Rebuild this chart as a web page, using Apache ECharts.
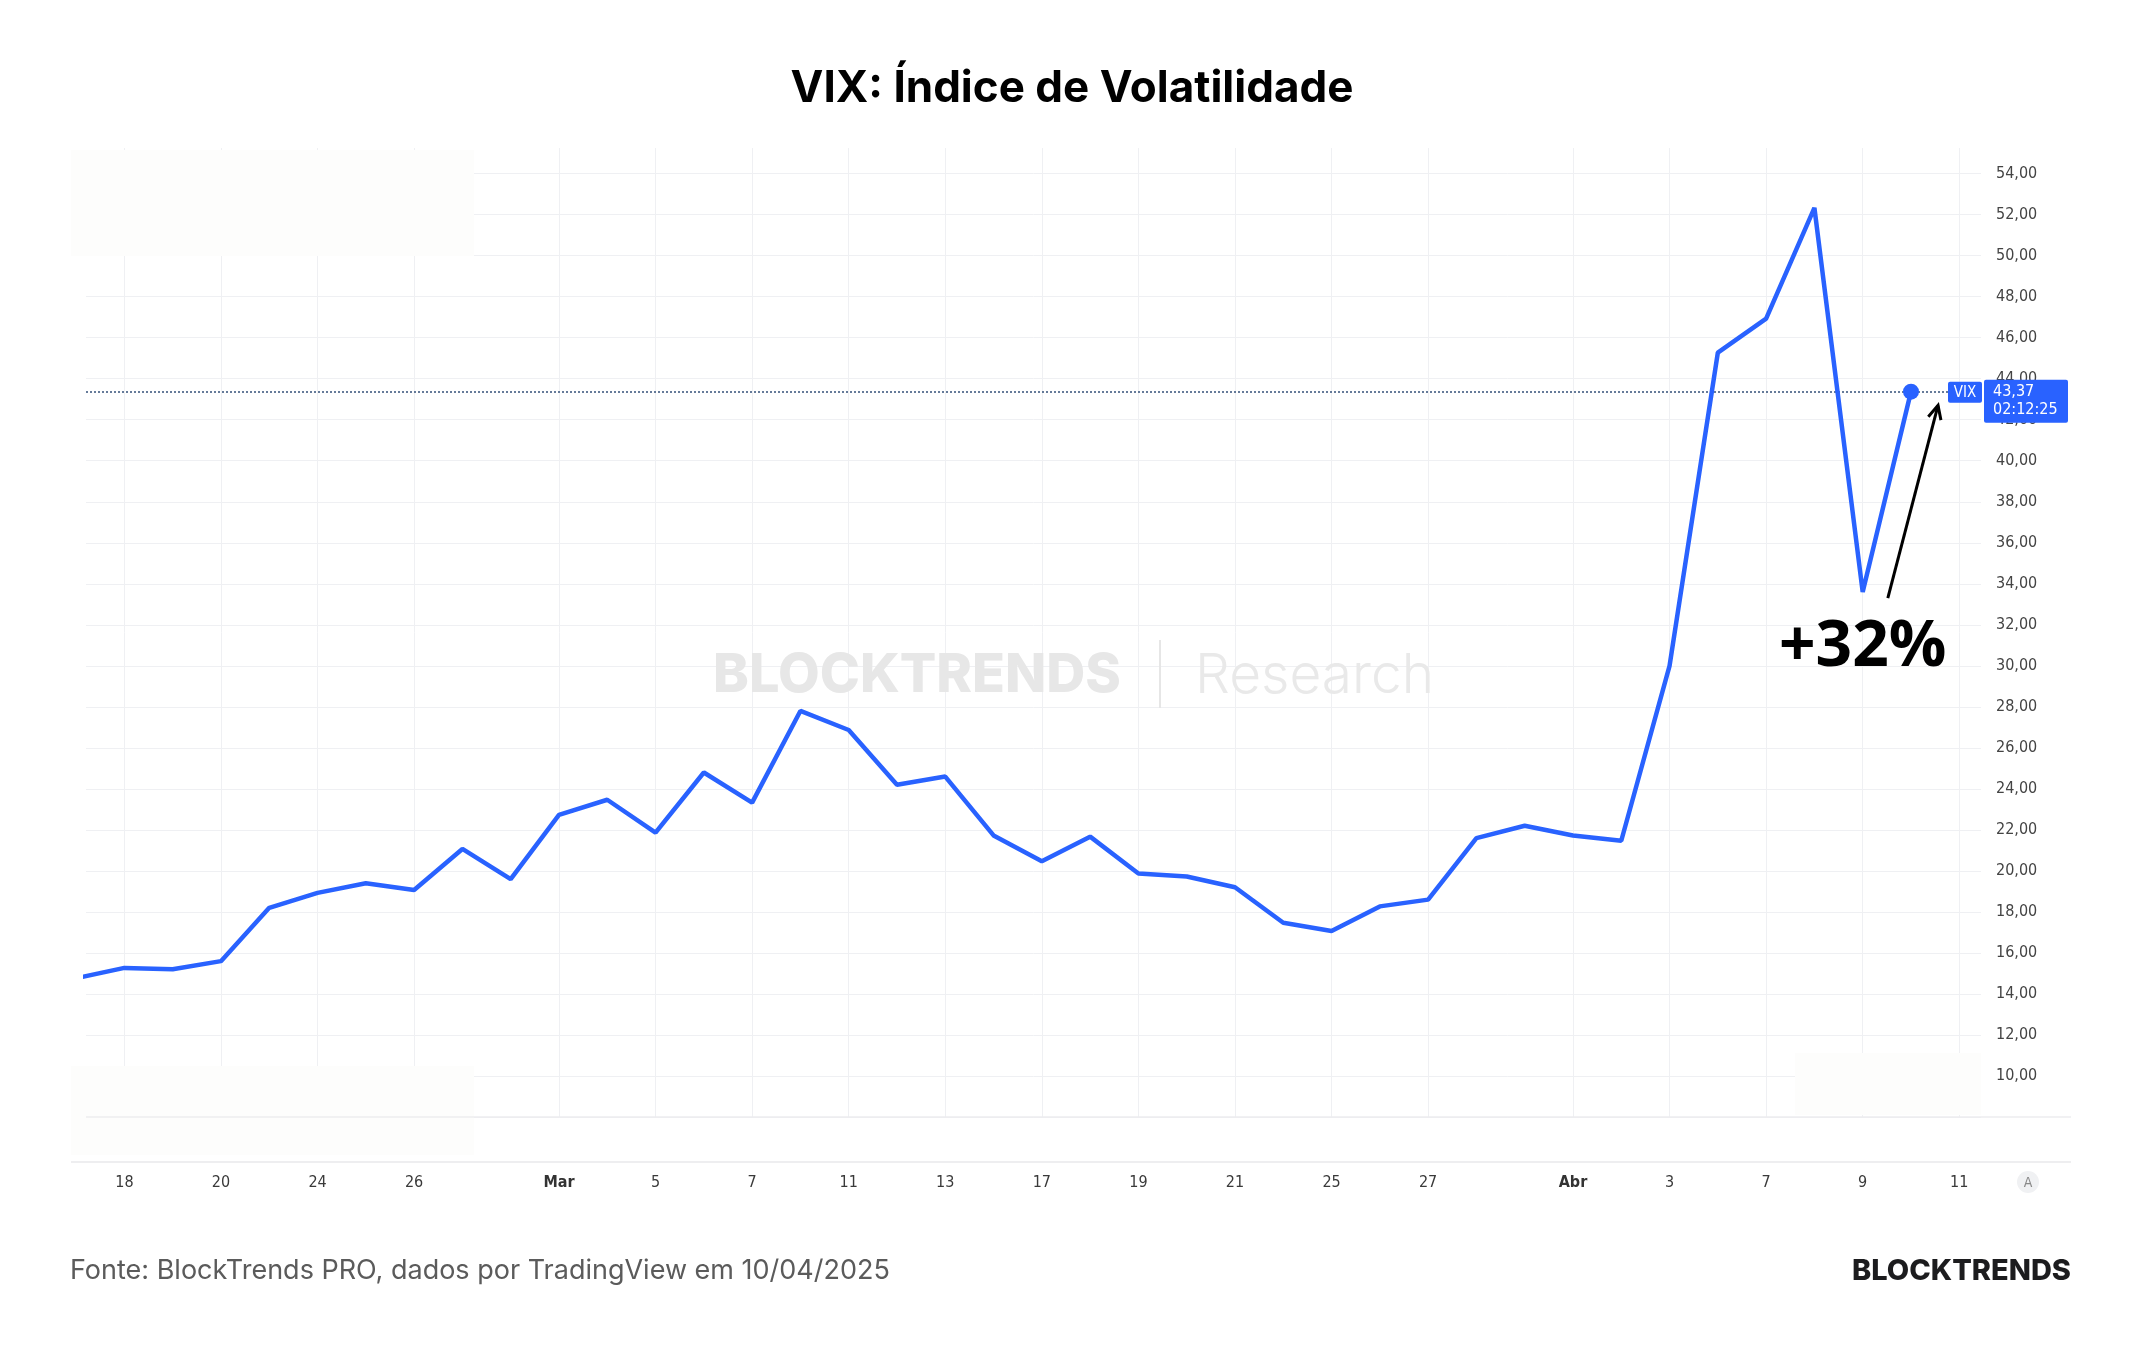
<!DOCTYPE html>
<html><head><meta charset="utf-8">
<script src="https://cdn.jsdelivr.net/npm/echarts@6/dist/echarts.min.js"></script>
<style>html,body{margin:0;padding:0;background:#fff}#c{width:2144px;height:1350px}</style>
</head><body><div id="c"></div>
<script>
// Trading days (index 0 = 14 fev)
const dates = ['14/02','18/02','19/02','20/02','21/02','24/02','25/02','26/02','27/02','28/02',
  '03/03','04/03','05/03','06/03','07/03','10/03','11/03','12/03','13/03','14/03',
  '17/03','18/03','19/03','20/03','21/03','24/03','25/03','26/03','27/03','28/03',
  '31/03','01/04','02/04','03/04','04/04','07/04','08/04','09/04','10/04'];
const vix = [14.77, 15.27, 15.2, 15.6, 18.2, 18.93, 19.4, 19.07, 21.07, 19.6,
  22.73, 23.47, 21.87, 24.8, 23.33, 27.8, 26.87, 24.2, 24.6, 21.73,
  20.47, 21.67, 19.87, 19.73, 19.2, 17.47, 17.07, 18.27, 18.6, 21.6,
  22.2, 21.73, 21.47, 30.0, 45.27, 46.93, 52.33, 33.6, 43.37];
const xTickIdx = [1,3,5,7,10,12,14,16,18,20,22,24,26,28,31,33,35,37,39];
const xTickLabels = ['18','20','24','26','Mar','5','7','11','13','17','19','21','25','27','Abr','3','7','9','11'];
const lastValue = 43.37;
const lastTime = '02:12:25';
const changeLabel = '+32%';

const BLUE = '#2962ff';
const GRID = '#eff0f3';
const cond = '"DejaVu Sans Condensed","Liberation Sans Narrow","DejaVu Sans",sans-serif';

const chart = echarts.init(document.getElementById('c'), null, {renderer: 'canvas'});
const lastIdx = vix.length - 1;
const seriesData = vix.map((v, i) => i === lastIdx
  ? {value: [i, v], symbol: 'circle', symbolSize: 16, itemStyle: {color: BLUE}}
  : [i, v]);

const option = {
  backgroundColor: '#ffffff',
  animation: false,
  grid: {left: 86, right: 163, top: 148, bottom: 233},
  xAxis: {
    type: 'value', min: 0.205, max: 39.45,
    offset: 45,
    axisLine: {show: false},
    axisTick: {show: false, customValues: xTickIdx},
    axisLabel: {
      customValues: xTickIdx,
      margin: 13,
      fontSize: 16, color: '#3a3a3a', fontFamily: cond,
      formatter: v => {
        const k = xTickIdx.indexOf(Math.round(v));
        if (k < 0) return '';
        const t = xTickLabels[k];
        return (t === 'Mar' || t === 'Abr') ? '{b|' + t + '}' : t;
      },
      rich: {b: {fontSize: 16, fontWeight: 'bold', color: '#333', fontFamily: cond}}
    },
    splitLine: {show: true, lineStyle: {color: GRID, width: 1}}
  },
  yAxis: {
    type: 'value', position: 'right', min: 8, max: 55.25, interval: 2,
    axisLine: {show: false}, axisTick: {show: false},
    axisLabel: {
      margin: 15, fontSize: 16, color: '#444', fontFamily: cond,
      showMinLabel: false, showMaxLabel: false,
      formatter: v => v.toFixed(2).replace('.', ',')
    },
    splitLine: {show: true, showMaxLine: false, lineStyle: {color: GRID, width: 1}}
  },
  series: [{
    type: 'line', data: seriesData, symbol: 'none', showSymbol: true,
    lineStyle: {color: BLUE, width: 4.5}, itemStyle: {color: BLUE},
    z: 5,
    markLine: {
      silent: true, symbol: ['none', 'none'], label: {show: false},
      lineStyle: {color: '#34507a', type: [2, 2], width: 1.5},
      data: [{yAxis: lastValue}]
    }
  }]
};
chart.setOption(option);

function px(x, y) { return chart.convertToPixel({gridIndex: 0}, [x, y]); }

const gridLeft = 86, gridRight = 2144 - 163;
const pBottom = px(0.205, 8);
const pLast = px(lastIdx, lastValue);
const lineY = pLast[1];

// arrow geometry from data coordinates
const a0 = px(37.52, 33.3);
const a1 = px(38.56, 42.7);
const ang = Math.atan2(a1[1] - a0[1], a1[0] - a0[0]);
const hl = 15, ha = 0.45;
const h1 = [a1[0] - hl * Math.cos(ang - ha), a1[1] - hl * Math.sin(ang - ha)];
const h2 = [a1[0] - hl * Math.cos(ang + ha), a1[1] - hl * Math.sin(ang + ha)];
const tPos = px(37.0, 30.9);

const graphics = [
  // title
  {type: 'text', x: 1072, y: 89, z: 50, style: {text: 'VIX: Índice de Volatilidade', fill: '#000',
    font: '700 44px Inter, sans-serif', textAlign: 'center', textVerticalAlign: 'middle'}},
  // watermark
  {type: 'text', x: 1121, y: 676, z: 1, silent: true, style: {text: 'BLOCKTRENDS', fill: '#e7e7e7',
    font: '800 54px Inter, sans-serif', textAlign: 'right', textVerticalAlign: 'middle'}},
  {type: 'line', z: 1, silent: true, shape: {x1: 1160, y1: 640, x2: 1160, y2: 708}, style: {stroke: '#e6e6e6', lineWidth: 2}},
  {type: 'text', x: 1195, y: 676, z: 1, silent: true, style: {text: 'Research', fill: '#e9e9e9',
    font: '300 55px Inter, sans-serif', textAlign: 'left', textVerticalAlign: 'middle'}},
  // redaction boxes
  {type: 'rect', z: 1, silent: true, shape: {x: 71, y: 150, width: 403, height: 106}, style: {fill: '#fdfdfc'}},
  {type: 'rect', z: 1, silent: true, shape: {x: 71, y: 1066, width: 403, height: 89}, style: {fill: '#fdfdfc'}},
  {type: 'rect', z: 1, silent: true, shape: {x: 1795, y: 1053, width: 186, height: 62}, style: {fill: '#fdfdfc'}},
  // bottom border & time axis line
  {type: 'line', z: 2, silent: true, shape: {x1: gridLeft, y1: pBottom[1], x2: 2071, y2: pBottom[1]}, style: {stroke: '#ecedef', lineWidth: 1.5}},
  {type: 'line', z: 2, silent: true, shape: {x1: 71, y1: pBottom[1] + 45, x2: 2071, y2: pBottom[1] + 45}, style: {stroke: '#e8e9eb', lineWidth: 1.5}},
  // auto-scale "A" button
  {type: 'circle', z: 2, silent: true, shape: {cx: 2028, cy: 1182, r: 11}, style: {fill: '#f0f1f3'}},
  {type: 'text', x: 2028, y: 1183, z: 3, silent: true, style: {text: 'A', fill: '#888', font: '14px ' + cond, textAlign: 'center', textVerticalAlign: 'middle'}},
  // VIX tag & last-value box
  {type: 'rect', z: 60, shape: {x: gridRight - 33, y: lineY - 10, width: 34, height: 21, r: 2}, style: {fill: BLUE}},
  {type: 'text', x: gridRight - 16, y: lineY + 1, z: 61, style: {text: 'VIX', fill: '#fff', font: '15px ' + cond, textAlign: 'center', textVerticalAlign: 'middle'}},
  {type: 'rect', z: 60, shape: {x: gridRight + 3, y: lineY - 12, width: 84, height: 43, r: 2}, style: {fill: BLUE}},
  {type: 'text', x: gridRight + 12, y: lineY, z: 61, style: {text: lastValue.toFixed(2).replace('.', ','), fill: '#fff', font: '16px ' + cond, textAlign: 'left', textVerticalAlign: 'middle'}},
  {type: 'text', x: gridRight + 12, y: lineY + 18, z: 61, style: {text: lastTime, fill: '#fff', font: '16px ' + cond, textAlign: 'left', textVerticalAlign: 'middle'}},
  // arrow annotation
  {type: 'line', z: 40, shape: {x1: a0[0], y1: a0[1], x2: a1[0], y2: a1[1]}, style: {stroke: '#000', lineWidth: 3}},
  {type: 'polyline', z: 40, shape: {points: [h1, a1, h2]}, style: {stroke: '#000', lineWidth: 3, fill: null}},
  {type: 'text', x: tPos[0], y: tPos[1], z: 40, style: {text: changeLabel, fill: '#000', font: '700 64px "Open Sans", sans-serif', textAlign: 'center', textVerticalAlign: 'middle'}},
  // footer
  {type: 'text', x: 70, y: 1271, z: 50, style: {text: 'Fonte: BlockTrends PRO, dados por TradingView em 10/04/2025', fill: '#5b5b5b',
    font: '400 27px Inter, sans-serif', textAlign: 'left', textVerticalAlign: 'middle'}},
  {type: 'text', x: 2071, y: 1271, z: 50, style: {text: 'BLOCKTRENDS', fill: '#1c1c1e',
    font: '800 29px Inter, sans-serif', textAlign: 'right', textVerticalAlign: 'middle'}}
];
chart.setOption({graphic: graphics});
</script></body></html>
